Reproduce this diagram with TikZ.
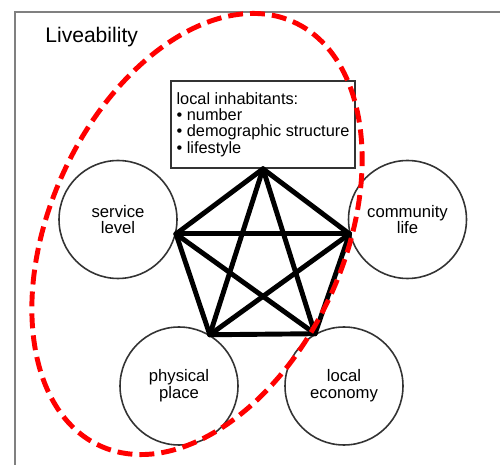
\documentclass[tikz,border=0pt]{standalone}
\usepackage{fontspec}
\setmainfont{Liberation Sans}
\usetikzlibrary{calc}

\tikzset{
	factor/.style={circle, draw=black!80, line width=0.9pt, fill=white, minimum size=2.36cm, inner sep=0pt, align=center, font=\fontsize{9.5}{9.5}\selectfont},
	infobox/.style={draw=black!80, line width=1pt, minimum width=3.68cm, minimum height=1.74cm, inner sep=0pt, align=left, font=\fontsize{9.3}{9.3}\selectfont},
	link/.style={line width=2.8pt, line cap=round, line join=round},
	outer/.style={draw=black!50, line width=0.9pt},
	focus/.style={draw=red, line width=2.8pt, dash pattern=on 8.5pt off 4pt},
}

\begin{document}
\begin{tikzpicture}[x=0.02cm, y=-0.02cm]
			%%%%% START %%%%%
			
			\clip (0, 0) rectangle (500, 465);
			
			\draw[outer] (15, 12) rectangle (520, 485);
			\node[anchor=base west, inner sep=0pt, font=\fontsize{12}{14}\selectfont] (title) at (45, 43) {Liveability};
			
			\node[infobox] (inhab) at (263, 124.5) {local inhabitants:\\\textbullet\ number\\\textbullet\ demographic structure\\\textbullet\ lifestyle};
			
			\node[factor] (service) at (118, 219.5) {service\\level};
			\node[factor] (community) at (407.5, 219.5) {community\\life};
			\node[factor] (place) at (179, 386) {physical\\place};
			\node[factor] (economy) at (344, 386) {local\\economy};
			
			% every pair of the five is linked
			\foreach \a/\b in {inhab.south/service.-14, inhab.south/community.194, inhab.south/place.59, inhab.south/economy.119,
				service.-14/community.194, service.-14/place.59, service.-14/economy.119,
				community.194/place.59, community.194/economy.119, place.59/economy.119}
				\draw[link] (\a) -- (\b);
			
			\draw[focus, rotate around={65.4:(197, 234)}] (197, 234) ellipse [x radius=233, y radius=147];
			
			%%%%% END %%%%%
\end{tikzpicture}
\end{document}
